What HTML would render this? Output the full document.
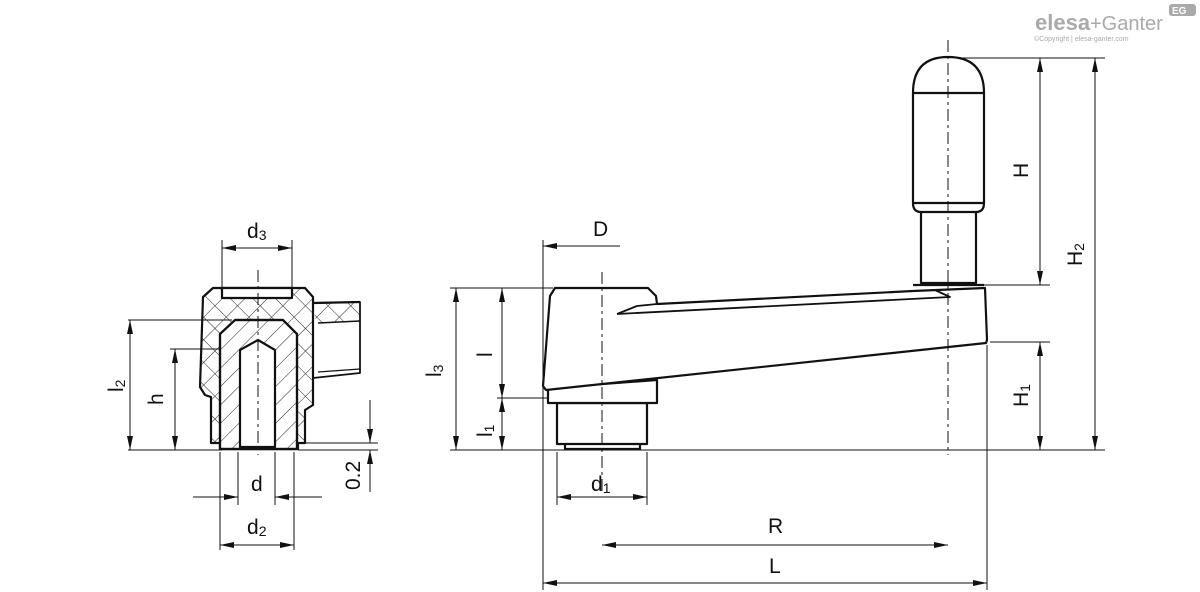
<!DOCTYPE html>
<html><head><meta charset="utf-8"><style>
html,body{margin:0;padding:0;background:#fff}
svg{display:block}
text{font-family:"Liberation Sans Narrow","Liberation Sans",sans-serif;fill:#111}
</style></head><body>
<svg width="1200" height="592" viewBox="0 0 1200 592" xmlns="http://www.w3.org/2000/svg">
<defs>
<pattern id="x" width="16" height="16" patternUnits="userSpaceOnUse" patternTransform="rotate(45)">
<line x1="0" y1="0" x2="0" y2="16" stroke="#222" stroke-width="1"/>
<line x1="0" y1="0" x2="16" y2="0" stroke="#222" stroke-width="1"/>
</pattern>
<pattern id="s" width="13" height="13" patternUnits="userSpaceOnUse" patternTransform="rotate(45)">
<line x1="0" y1="0" x2="0" y2="13" stroke="#222" stroke-width="1"/>
</pattern>
<marker id="a" viewBox="0 0 14 6" refX="14" refY="3" markerWidth="14" markerHeight="6" orient="auto-start-reverse" markerUnits="userSpaceOnUse">
<path d="M0,0 L14,3 L0,6 z" fill="#111"/>
</marker>
</defs>

<!-- logo -->
<text x="1035" y="30" font-size="22" font-weight="bold" style="fill:#aaa">elesa</text>
<text x="1090" y="30" font-size="20" style="fill:#aaa">+Ganter</text>
<text x="1034" y="41" font-size="7" style="fill:#aaa">©Copyright | elesa-ganter.com</text>
<rect x="1169" y="4" width="27" height="12" rx="3" fill="#aaa"/>
<text x="1172" y="14" font-size="10" font-weight="bold" style="fill:#fff">EG</text>

<g stroke="#111" fill="none" stroke-width="1">
<line x1="128" y1="320" x2="232" y2="320"/>
<line x1="170" y1="349" x2="240" y2="349"/>
<line x1="128" y1="450" x2="222" y2="450"/>
<line x1="298" y1="450" x2="378" y2="450"/>
<line x1="300" y1="443" x2="378" y2="443"/>
<line x1="222" y1="240" x2="222" y2="292"/>
<line x1="292" y1="240" x2="292" y2="292"/>
<line x1="238" y1="452" x2="238" y2="505"/>
<line x1="275" y1="452" x2="275" y2="505"/>
<line x1="220" y1="452" x2="220" y2="550"/>
<line x1="294" y1="452" x2="294" y2="550"/>
<line x1="222" y1="248" x2="292" y2="248" marker-start="url(#a)" marker-end="url(#a)"/>
<line x1="130" y1="320" x2="130" y2="450" marker-start="url(#a)" marker-end="url(#a)"/>
<line x1="175" y1="349" x2="175" y2="450" marker-start="url(#a)" marker-end="url(#a)"/>
<line x1="193" y1="497" x2="238" y2="497" marker-end="url(#a)"/>
<line x1="322" y1="497" x2="275" y2="497" marker-end="url(#a)"/>
<line x1="220" y1="545" x2="294" y2="545" marker-start="url(#a)" marker-end="url(#a)"/>
<line x1="370" y1="400" x2="370" y2="443" marker-end="url(#a)"/>
<line x1="370" y1="492" x2="370" y2="450" marker-end="url(#a)"/>
</g>

<!-- left view body -->
<g stroke="#111" stroke-width="2.2" stroke-linejoin="round">
<path d="M313,303 L360,302 L360,373 L313,378 Z" fill="#fff" stroke-width="1.8"/>
<path d="M313,303 L360,302 L360,321 L316,323 Z" fill="url(#x)" stroke="none"/>
<line x1="313" y1="303" x2="360" y2="302"/>
<line x1="318" y1="323" x2="360" y2="321" stroke-width="1.6"/>
<line x1="318" y1="372" x2="360" y2="369" stroke-width="1.2"/>
<path d="M213,288 L305,288 L313,297 L313,405 L305,410 L305,443 L298,443 L298,449 L220,449 L220,443 L211,443 L211,397 L205,395 L200,387 L203,297 Z" fill="url(#x)"/>
<rect x="222" y="288" width="70" height="10" fill="#fff"/>
<path d="M220,449 L220,334 L235,320 L283,320 L297,334 L297,449 Z" fill="#fff"/>
<path d="M220,449 L220,334 L235,320 L283,320 L297,334 L297,449 Z" fill="url(#s)"/>
<path d="M240,447 L240,350 L258,340 L275,350 L275,447 Z" fill="#fff"/>
</g>
<line x1="258" y1="270" x2="258" y2="455" stroke="#111" stroke-width="1" stroke-dasharray="12,4,3,4"/>

<g stroke="#111" fill="none" stroke-width="1">
<line x1="450" y1="288" x2="553" y2="288"/>
<line x1="497" y1="398" x2="548" y2="398"/>
<line x1="450" y1="450" x2="1105" y2="450"/>
<line x1="543" y1="240" x2="543" y2="590"/>
<line x1="557" y1="452" x2="557" y2="505"/>
<line x1="647" y1="452" x2="647" y2="505"/>
<line x1="987" y1="345" x2="987" y2="590"/>
<line x1="952" y1="58" x2="1105" y2="58"/>
<line x1="980" y1="285" x2="1050" y2="285"/>
<line x1="990" y1="342" x2="1050" y2="342"/>
<line x1="456" y1="288" x2="456" y2="450" marker-start="url(#a)" marker-end="url(#a)"/>
<line x1="502" y1="288" x2="502" y2="398" marker-start="url(#a)" marker-end="url(#a)"/>
<line x1="502" y1="398" x2="502" y2="450" marker-start="url(#a)" marker-end="url(#a)"/>
<line x1="620" y1="246" x2="543" y2="246" marker-end="url(#a)"/>
<line x1="557" y1="497" x2="647" y2="497" marker-start="url(#a)" marker-end="url(#a)"/>
<line x1="602" y1="545" x2="948" y2="545" marker-start="url(#a)" marker-end="url(#a)"/>
<line x1="543" y1="583" x2="987" y2="583" marker-start="url(#a)" marker-end="url(#a)"/>
<line x1="1040" y1="58" x2="1040" y2="285" marker-start="url(#a)" marker-end="url(#a)"/>
<line x1="1095" y1="58" x2="1095" y2="450" marker-start="url(#a)" marker-end="url(#a)"/>
<line x1="1040" y1="342" x2="1040" y2="450" marker-start="url(#a)" marker-end="url(#a)"/>
</g>

<g stroke="#111" stroke-width="2.2" fill="#fff" stroke-linejoin="round">
<rect x="565" y="440" width="75" height="9"/>
<rect x="557" y="403" width="90" height="41"/>
<path d="M548,388 L548,403 L657,403 L657,380 Z"/>
<path d="M555,288 L648,288 L656,296 L657,304 L913,291 L985,288 L987,340 L986,343 L546,390 L543,386 L550,296 Z"/>
<path d="M617,314 L637,306 L657,304" fill="none" stroke-width="1.8"/>
<path d="M617,314 L950,297 L935,290" fill="none" stroke-width="1.8"/>
<path d="M921,212 L921,283 L976,283 L976,212" />
<line x1="913" y1="285" x2="984" y2="285"/>
<path d="M913,93 Q913,57 948,57 Q984,57 984,93 L984,203 Q984,212 976,212 L921,212 Q913,212 913,203 Z"/>
<line x1="913" y1="93" x2="984" y2="93"/>
<line x1="913" y1="203" x2="984" y2="203"/>
</g>
<g stroke="#111" stroke-width="1" stroke-dasharray="12,4,3,4">
<line x1="602" y1="272" x2="602" y2="495"/>
<line x1="948" y1="40" x2="948" y2="455"/>
</g>

<g font-size="21">
<text x="247" y="238">d<tspan font-size="14" dy="2">3</tspan></text>
<text x="251" y="491">d</text>
<text x="247" y="534">d<tspan font-size="14" dy="2">2</tspan></text>
<text x="593" y="236">D</text>
<text x="591" y="491">d<tspan font-size="14" dy="2">1</tspan></text>
<text x="768" y="533">R</text>
<text x="769" y="573">L</text>
<text transform="translate(123,392) rotate(-90)">l<tspan font-size="14" dy="2">2</tspan></text>
<text transform="translate(163,405) rotate(-90)">h</text>
<text transform="translate(360,490) rotate(-90)">0.2</text>
<text transform="translate(441,377) rotate(-90)">l<tspan font-size="14" dy="2">3</tspan></text>
<text transform="translate(492,357) rotate(-90)">l</text>
<text transform="translate(492,437) rotate(-90)">l<tspan font-size="14" dy="2">1</tspan></text>
<text transform="translate(1028,178) rotate(-90)">H</text>
<text transform="translate(1082,266) rotate(-90)">H<tspan font-size="14" dy="2">2</tspan></text>
<text transform="translate(1028,407) rotate(-90)">H<tspan font-size="14" dy="2">1</tspan></text>
</g>
</svg>
</body></html>
